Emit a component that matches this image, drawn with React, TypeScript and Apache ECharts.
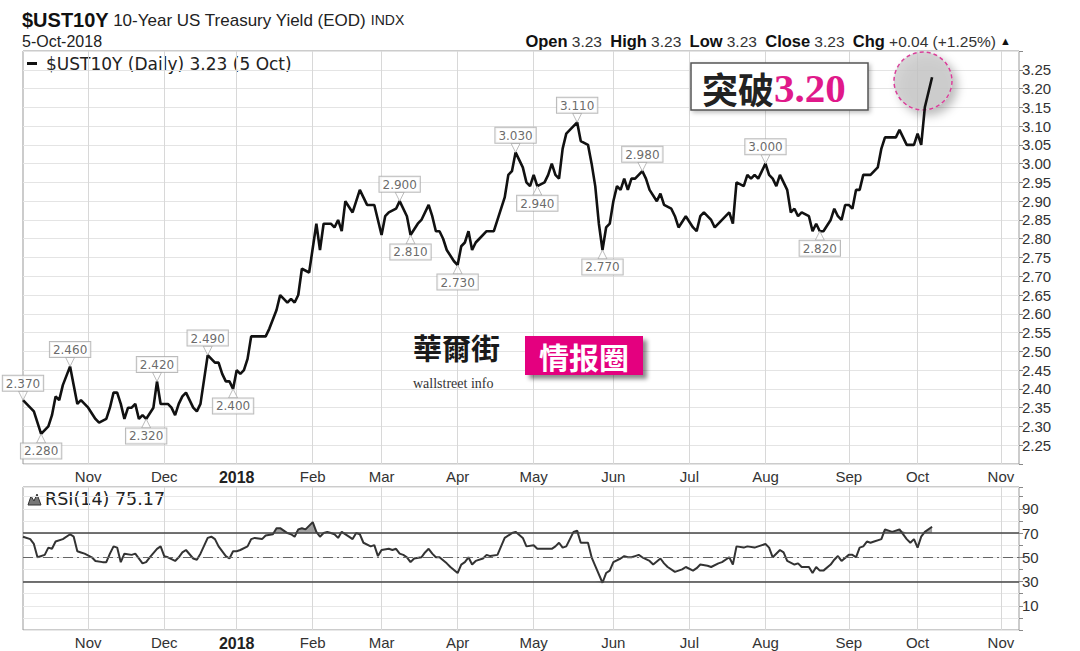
import React, { useEffect, useRef } from 'react';
import * as echarts from 'echarts';

// Trading-day axis: day 0 = 6 Oct 2017, one category per trading day
const DAY_COUNT = 276;
const MONTH_START = [18, 39, 59, 80, 99, 120, 141, 163, 184, 205, 228, 247, 270];
const MONTH_LABEL = ['Nov', 'Dec', '2018', 'Feb', 'Mar', 'Apr', 'May', 'Jun', 'Jul', 'Aug', 'Sep', 'Oct', 'Nov'];

// $UST10Y daily close (trading-day index, yield %)
const YIELD_POINTS: [number, number][] = [
  [0, 2.37], [2, 2.35], [3, 2.34], [5, 2.28], [6, 2.29], [7, 2.30], [8, 2.33], [9, 2.38], [10, 2.37], [11, 2.41],
  [13, 2.46], [14, 2.41], [15, 2.36], [16, 2.37], [18, 2.35], [20, 2.32], [21, 2.31], [23, 2.32], [24, 2.35], [25, 2.39],
  [26, 2.39], [27, 2.36], [28, 2.32], [29, 2.35], [30, 2.35], [31, 2.36], [32, 2.32], [33, 2.33], [34, 2.32], [36, 2.35],
  [37, 2.42], [38, 2.36], [40, 2.36], [41, 2.35], [42, 2.33], [43, 2.36], [44, 2.38], [45, 2.39], [46, 2.37], [47, 2.35],
  [48, 2.34], [49, 2.36], [51, 2.49], [53, 2.47], [54, 2.47], [55, 2.44], [56, 2.42], [57, 2.42], [58, 2.40], [59, 2.45],
  [60, 2.44], [61, 2.45], [62, 2.48], [63, 2.54], [65, 2.54], [66, 2.54], [67, 2.54], [68, 2.56], [70, 2.61], [71, 2.65],
  [73, 2.63], [74, 2.64], [75, 2.63], [76, 2.65], [77, 2.72], [79, 2.71], [81, 2.84], [82, 2.77], [83, 2.84], [85, 2.84],
  [86, 2.83], [87, 2.85], [88, 2.82], [89, 2.90], [91, 2.87], [93, 2.93], [94, 2.91], [95, 2.89], [97, 2.89], [98, 2.85],
  [99, 2.81], [100, 2.86], [101, 2.87], [103, 2.88], [104, 2.90], [106, 2.86], [107, 2.81], [109, 2.84], [110, 2.85], [112, 2.89],
  [113, 2.86], [114, 2.82], [115, 2.82], [116, 2.80], [117, 2.77], [119, 2.74], [120, 2.73], [121, 2.78], [122, 2.79], [123, 2.82],
  [124, 2.77], [125, 2.79], [126, 2.80], [128, 2.82], [129, 2.82], [130, 2.82], [132, 2.88], [133, 2.91], [134, 2.97], [135, 2.98],
  [136, 3.03], [138, 2.99], [139, 2.95], [140, 2.94], [141, 2.97], [142, 2.94], [144, 2.95], [145, 2.97], [146, 3.00], [147, 2.97],
  [148, 2.96], [149, 3.04], [150, 3.08], [151, 3.09], [153, 3.11], [154, 3.06], [156, 3.05], [157, 3.00], [158, 2.94], [159, 2.84],
  [160, 2.77], [161, 2.83], [162, 2.84], [163, 2.90], [164, 2.94], [165, 2.93], [166, 2.96], [167, 2.93], [168, 2.96], [169, 2.96],
  [170, 2.97], [171, 2.98], [172, 2.96], [173, 2.93], [175, 2.90], [176, 2.92], [177, 2.89], [179, 2.88], [180, 2.86], [181, 2.83],
  [183, 2.86], [185, 2.83], [186, 2.82], [187, 2.86], [188, 2.87], [190, 2.85], [191, 2.83], [193, 2.85], [195, 2.87], [196, 2.84],
  [197, 2.95], [199, 2.94], [200, 2.97], [201, 2.96], [202, 2.97], [203, 2.96], [205, 3.00], [206, 2.97], [207, 2.96], [208, 2.94],
  [209, 2.97], [210, 2.95], [211, 2.93], [212, 2.87], [213, 2.88], [214, 2.86], [215, 2.87], [217, 2.86], [218, 2.82], [219, 2.84],
  [220, 2.82], [221, 2.82], [223, 2.85], [224, 2.88], [225, 2.86], [226, 2.85], [227, 2.89], [228, 2.89], [229, 2.88], [230, 2.93],
  [231, 2.93], [232, 2.97], [234, 2.97], [235, 2.98], [236, 2.99], [237, 3.04], [238, 3.07], [240, 3.07], [241, 3.07], [242, 3.09],
  [244, 3.05], [245, 3.05], [246, 3.05], [247, 3.08], [248, 3.05], [249, 3.15], [250, 3.19], [251, 3.23],
];

// Annotated highs (label above) and lows (label below)
const PEAK_DAYS = [0, 13, 37, 51, 104, 136, 153, 171, 205];
const TROUGH_DAYS = [5, 34, 58, 107, 120, 142, 160, 220];

// RSI(14)
const RSI_POINTS: [number, number][] = [
  [0, 67], [2, 65], [3, 61], [4, 50], [6, 52], [7, 58], [8, 57], [9, 63], [11, 65], [13, 69], [14, 67], [15, 55], [16, 54],
  [17, 53], [19, 50], [20, 47], [22, 46], [23, 46], [24, 53], [25, 59], [26, 58], [27, 46], [28, 53], [30, 52], [31, 53],
  [33, 45], [34, 46], [35, 50], [37, 57], [38, 59], [39, 51], [40, 50], [42, 47], [43, 50], [44, 54], [45, 56], [47, 49],
  [48, 48], [49, 53], [51, 66], [52, 67], [53, 65], [54, 59], [56, 51], [57, 49], [58, 55], [59, 55], [60, 56], [62, 59],
  [63, 65], [64, 66], [66, 65], [67, 68], [69, 69], [70, 74], [71, 74], [73, 70], [74, 69], [75, 67], [76, 73], [77, 74],
  [78, 73], [80, 79], [81, 71], [82, 67], [83, 70], [84, 71], [85, 70], [86, 69], [87, 66], [88, 71], [90, 67], [91, 65],
  [92, 70], [93, 69], [94, 62], [96, 59], [97, 60], [98, 51], [99, 56], [101, 57], [102, 56], [103, 57], [104, 53], [105, 52],
  [106, 50], [107, 46], [108, 49], [110, 50], [111, 54], [112, 57], [113, 53], [114, 50], [115, 50], [117, 45], [118, 42],
  [120, 37], [121, 44], [122, 46], [123, 50], [124, 44], [125, 47], [127, 49], [128, 52], [129, 51], [131, 52], [132, 59],
  [133, 66], [135, 70], [136, 71], [138, 66], [139, 59], [141, 60], [142, 57], [144, 57], [146, 57], [147, 59], [148, 62],
  [149, 58], [150, 59], [151, 65], [152, 71], [153, 72], [154, 62], [156, 62], [157, 50], [158, 43], [160, 29], [161, 37],
  [162, 39], [163, 46], [165, 49], [166, 51], [167, 50], [168, 50], [169, 51], [170, 52], [171, 50], [173, 47], [174, 44],
  [176, 49], [177, 45], [178, 42], [180, 38], [182, 40], [183, 42], [185, 39], [186, 41], [187, 44], [189, 43], [190, 42],
  [192, 45], [193, 46], [195, 50], [196, 44], [197, 59], [199, 58], [200, 59], [202, 58], [203, 59], [205, 61], [206, 58],
  [207, 50], [209, 56], [210, 54], [211, 47], [213, 44], [214, 45], [215, 42], [217, 42], [218, 37], [219, 42], [220, 39],
  [221, 39], [223, 44], [224, 48], [225, 51], [226, 47], [228, 52], [229, 52], [230, 50], [231, 58], [232, 59], [233, 63],
  [234, 62], [235, 63], [237, 65], [238, 73], [240, 71], [241, 72], [242, 73], [244, 65], [245, 62], [246, 65], [247, 58],
  [248, 67], [249, 71], [251, 75.17],
];
const RSI_LEVELS = [70, 50, 30];
const RSI_LABELS = [10, 30, 50, 70, 90];

export default function App() {
  const ref = useRef<HTMLDivElement>(null);

  useEffect(() => {
    document.body.style.margin = '0';
    const chart = echarts.init(ref.current!, null, { renderer: 'svg' });

    const categories = Array.from({ length: DAY_COUNT }, (_, i) => String(i));
    const monthSet = new Set(MONTH_START);
    const yieldAt = (d: number) => (YIELD_POINTS.find((p) => p[0] === d) as [number, number])[1];
    const axisFont = 'Liberation Sans, Arial, sans-serif';

    const makeX = (gridIndex: number) => ({
      type: 'category',
      gridIndex,
      data: categories,
      boundaryGap: false,
      axisLine: { show: false },
      axisTick: { show: false },
      axisLabel: {
        interval: (i: number) => monthSet.has(i),
        formatter: (v: string) => {
          const lab = MONTH_LABEL[MONTH_START.indexOf(Number(v))];
          return lab === '2018' ? '{y|2018}' : lab;
        },
        color: '#333',
        fontSize: 15,
        fontFamily: axisFont,
        margin: 5,
        rich: { y: { fontWeight: 'bold', fontSize: 16, color: '#222', fontFamily: axisFont } },
      },
      splitLine: { show: true, interval: (i: number) => monthSet.has(i), lineStyle: { color: '#d8d8d8', width: 1 } },
    });

    const calloutLabel = (position: string) => ({
      show: true,
      position,
      distance: 0,
      formatter: (p: any) => Number(p.value[1]).toFixed(3),
      color: '#444',
      fontSize: 12,
      fontFamily: 'DejaVu Sans, Verdana, sans-serif',
      backgroundColor: '#fff',
      borderColor: '#aaa',
      borderWidth: 1,
      padding: [2, 3, 1, 3],
    });

    const option: any = {
      animation: false,
      backgroundColor: '#fff',
      grid: [
        { left: 23, right: 61, top: 51, height: 413, show: true, borderColor: '#999', borderWidth: 1 },
        { left: 23, right: 61, top: 487, height: 147, show: true, borderColor: '#999', borderWidth: 1 },
      ],
      xAxis: [makeX(0), makeX(1)],
      yAxis: [
        {
          type: 'value',
          gridIndex: 0,
          position: 'right',
          min: 2.2,
          max: 3.3,
          interval: 0.05,
          axisLine: { show: false },
          axisTick: { show: true, length: 4, lineStyle: { color: '#888' } },
          axisLabel: {
            formatter: (v: number) => (v < 2.22 || v > 3.28 ? '' : v.toFixed(2)),
            color: '#333',
            fontSize: 15,
            fontFamily: axisFont,
            margin: 3,
          },
          splitLine: { lineStyle: { color: '#e4e4e4' } },
        },
        {
          type: 'value',
          gridIndex: 1,
          position: 'right',
          min: -10,
          max: 108,
          interval: 10,
          axisLine: { show: false },
          axisTick: { show: true, length: 4, lineStyle: { color: '#888' } },
          axisLabel: {
            formatter: (v: number) => (RSI_LABELS.includes(v) ? String(v) : ''),
            color: '#333',
            fontSize: 15,
            fontFamily: axisFont,
            margin: 3,
          },
          splitLine: { lineStyle: { color: '#e8e8e8' } },
        },
      ],
      series: [
        {
          name: '$UST10Y',
          type: 'line',
          xAxisIndex: 0,
          yAxisIndex: 0,
          data: YIELD_POINTS.map(([d, v]) => [String(d), v]),
          symbol: 'none',
          lineStyle: { color: '#111', width: 2.6 },
          z: 3,
        },
        {
          type: 'scatter',
          xAxisIndex: 0,
          yAxisIndex: 0,
          data: PEAK_DAYS.map((d) => [String(d), yieldAt(d)]),
          symbol: 'path://M0,0L10,0L5,9Z',
          symbolSize: [9, 9],
          symbolOffset: [0, '-50%'],
          itemStyle: { color: '#fff', borderColor: '#aaa', borderWidth: 1 },
          label: calloutLabel('top'),
          z: 5,
        },
        {
          type: 'scatter',
          xAxisIndex: 0,
          yAxisIndex: 0,
          data: TROUGH_DAYS.map((d) => [String(d), yieldAt(d)]),
          symbol: 'path://M5,0L10,9L0,9Z',
          symbolSize: [9, 9],
          symbolOffset: [0, '50%'],
          itemStyle: { color: '#fff', borderColor: '#aaa', borderWidth: 1 },
          label: calloutLabel('bottom'),
          z: 5,
        },
        {
          type: 'line',
          xAxisIndex: 1,
          yAxisIndex: 1,
          data: RSI_POINTS.map(([d, v]) => [String(d), Math.max(v, 70)]),
          symbol: 'none',
          lineStyle: { width: 0, opacity: 0 },
          areaStyle: { origin: 70, color: '#8a8a8a', opacity: 0.8 },
          z: 2,
        },
        {
          type: 'line',
          xAxisIndex: 1,
          yAxisIndex: 1,
          data: RSI_POINTS.map(([d, v]) => [String(d), Math.min(v, 30)]),
          symbol: 'none',
          lineStyle: { width: 0, opacity: 0 },
          areaStyle: { origin: 30, color: '#8a8a8a', opacity: 0.8 },
          z: 2,
        },
        {
          name: 'RSI(14)',
          type: 'line',
          xAxisIndex: 1,
          yAxisIndex: 1,
          data: RSI_POINTS.map(([d, v]) => [String(d), v]),
          symbol: 'none',
          lineStyle: { color: '#333', width: 2 },
          z: 3,
          markLine: {
            silent: true,
            symbol: ['none', 'none'],
            label: { show: false },
            data: RSI_LEVELS.map((lv) => ({
              yAxis: lv,
              lineStyle:
                lv === 50
                  ? { color: '#666', width: 1.2, type: [10, 4, 2, 4] }
                  : { color: '#444', width: 1.5, type: 'solid' },
            })),
          },
        },
      ],
      graphic: [
        {
          type: 'text',
          x: 22,
          y: 20,
          style: {
            text: '{a|$UST10Y} {b|10-Year US Treasury Yield (EOD)} {c|INDX}',
            textVerticalAlign: 'middle',
            fontFamily: axisFont,
            fontSize: 16,
            fill: '#111',
            rich: {
              a: { fontFamily: axisFont, fontWeight: 'bold', fontSize: 20, fill: '#111' },
              b: { fontFamily: axisFont, fontSize: 17, fill: '#222' },
              c: { fontFamily: axisFont, fontSize: 14, fill: '#222' },
            },
          },
        },
        {
          type: 'text',
          x: 22,
          y: 41,
          style: { text: '5-Oct-2018', textVerticalAlign: 'middle', fontFamily: axisFont, fontSize: 16, fill: '#222' },
        },
        {
          type: 'text',
          x: 1011,
          y: 41,
          style: {
            text: '{b|Open} {n|3.23}  {b|High} {n|3.23}  {b|Low} {n|3.23}  {b|Close} {n|3.23}  {b|Chg} {n|+0.04 (+1.25%)} {t|▲}',
            textAlign: 'right',
            textVerticalAlign: 'middle',
            fontFamily: axisFont,
            fontSize: 15,
            fill: '#222',
            rich: {
              b: { fontFamily: axisFont, fontWeight: 'bold', fontSize: 16.5, fill: '#111' },
              n: { fontFamily: axisFont, fontSize: 15.5, fill: '#333' },
              t: { fontFamily: axisFont, fontSize: 11, fill: '#111' },
            },
          },
        },
        { type: 'rect', shape: { x: 27, y: 62, width: 10, height: 3 }, style: { fill: '#111' } },
        {
          type: 'text',
          x: 46,
          y: 64,
          style: {
            text: '$UST10Y (Daily) 3.23 (5 Oct)',
            textVerticalAlign: 'middle',
            fontFamily: 'DejaVu Sans, Verdana, sans-serif',
            fontSize: 17,
            fill: '#222',
          },
        },
        {
          type: 'polygon',
          shape: { points: [[28, 505], [31, 496], [34, 501], [37, 494], [41, 505]] },
          style: { fill: '#777', stroke: '#333', lineWidth: 1 },
        },
        {
          type: 'text',
          x: 45,
          y: 499,
          style: {
            text: 'RSI(14) 75.17',
            textVerticalAlign: 'middle',
            fontFamily: 'DejaVu Sans, Verdana, sans-serif',
            fontSize: 17.5,
            fill: '#222',
          },
        },
        // highlight circle around the breakout
        {
          type: 'circle',
          z: 1,
          shape: { cx: 923, cy: 81, r: 29 },
          style: {
            fill: 'rgba(200,200,200,0.75)',
            stroke: '#d9409a',
            lineWidth: 1.5,
            lineDash: [4, 3],
            shadowBlur: 10,
            shadowColor: 'rgba(0,0,0,0.35)',
            shadowOffsetX: 5,
            shadowOffsetY: 5,
          },
        },
        // "突破3.20" callout
        {
          type: 'rect',
          z: 10,
          shape: { x: 691, y: 63, width: 177, height: 47 },
          style: {
            fill: '#fff',
            stroke: '#555',
            lineWidth: 1.5,
            shadowBlur: 4,
            shadowColor: 'rgba(0,0,0,0.25)',
            shadowOffsetX: 2,
            shadowOffsetY: 2,
          },
        },
        {
          type: 'text',
          z: 11,
          x: 702,
          y: 88,
          style: {
            text: '{a|突破}{b|3.20}',
            textVerticalAlign: 'middle',
            rich: {
              a: { fontFamily: 'Noto Sans CJK SC', fontWeight: 'bold', fontSize: 36, fill: '#222' },
              b: { fontFamily: 'Liberation Serif, DejaVu Serif, serif', fontWeight: 'bold', fontSize: 41, fill: '#e0198a' },
            },
          },
        },
        // watermark
        {
          type: 'text',
          z: 10,
          x: 413,
          y: 347,
          style: {
            text: '華爾街',
            textVerticalAlign: 'middle',
            fontFamily: 'Noto Sans CJK TC',
            fontWeight: 'bold',
            fontSize: 29,
            fill: '#1a1a1a',
          },
        },
        {
          type: 'text',
          z: 10,
          x: 413,
          y: 383,
          style: {
            text: 'wallstreet info',
            textVerticalAlign: 'middle',
            fontFamily: 'Liberation Serif, DejaVu Serif, serif',
            fontSize: 14,
            fill: '#333',
          },
        },
        {
          type: 'rect',
          z: 10,
          shape: { x: 525, y: 336, width: 118, height: 39 },
          style: {
            fill: '#e4007f',
            shadowBlur: 4,
            shadowColor: 'rgba(0,0,0,0.45)',
            shadowOffsetX: 4,
            shadowOffsetY: 4,
          },
        },
        {
          type: 'text',
          z: 11,
          x: 584,
          y: 356,
          style: {
            text: '情报圈',
            textAlign: 'center',
            textVerticalAlign: 'middle',
            fontFamily: 'Noto Sans CJK SC',
            fontWeight: 'bold',
            fontSize: 30,
            fill: '#fff',
          },
        },
      ],
    };

    chart.setOption(option);
    return () => chart.dispose();
  }, []);

  return (
    <div
      ref={ref}
      style={{ position: 'absolute', left: 0, top: 0, width: 1080, height: 651, background: '#fff' }}
    />
  );
}
